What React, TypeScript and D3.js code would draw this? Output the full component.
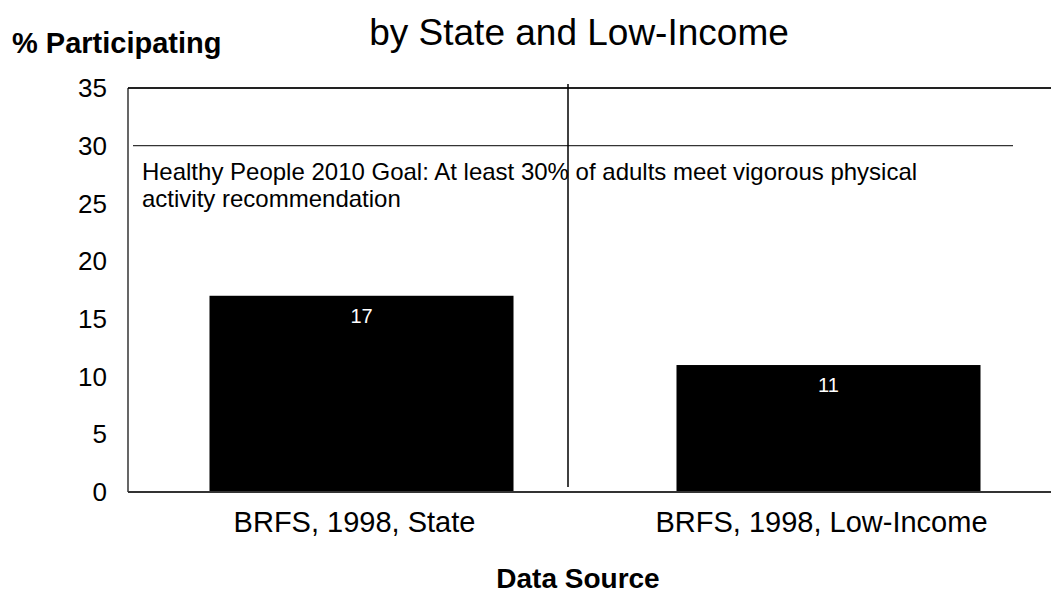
import React from "react";
import * as d3 from "d3";

const categories = ["BRFS, 1998, State", "BRFS, 1998, Low-Income"];
const values = [17, 11];
const yTicks = [0, 5, 10, 15, 20, 25, 30, 35];
const goalValue = 30;
const goalLines = [
  "Healthy People 2010 Goal: At least 30% of adults meet vigorous physical",
  "activity recommendation",
];

const W = 1051;
const H = 595;
const FONT = "'Liberation Sans', Arial, sans-serif";

export default function App() {
  const x = d3.scaleBand<string>().domain(categories).range([128, 1062]).padding(0);
  const y = d3.scaleLinear().domain([0, 35]).range([492, 88]);
  const barW = x.bandwidth() * 0.651;

  return (
    <svg
      width={W}
      height={H}
      style={{ position: "absolute", left: 0, top: 0, background: "#fff" }}
      fontFamily={FONT}
    >
      {/* titles */}
      <text x={579} y={45} textAnchor="middle" fontSize={37} fill="#000">
        by State and Low-Income
      </text>
      <text x={12} y={53} fontSize={29} fontWeight="bold" fill="#000">
        % Participating
      </text>

      {/* y tick labels */}
      {yTicks.map((t) => (
        <text
          key={t}
          x={107}
          y={y(t)}
          dy="0.35em"
          textAnchor="end"
          fontSize={26}
          fill="#000"
        >
          {t}
        </text>
      ))}

      {/* bars */}
      {categories.map((c, i) => {
        const cx = (x(c) as number) + x.bandwidth() / 2;
        return (
          <g key={c}>
            <rect
              x={cx - barW / 2}
              y={y(values[i])}
              width={barW}
              height={y(0) - y(values[i])}
              fill="#000"
            />
            <text
              x={cx}
              y={y(values[i]) + 27}
              textAnchor="middle"
              fontSize={20}
              fill="#fff"
            >
              {values[i]}
            </text>
            <text x={cx - 7} y={532} textAnchor="middle" fontSize={29} fill="#000">
              {c}
            </text>
          </g>
        );
      })}

      {/* plot frame */}
      <line x1={128} x2={W} y1={y(35)} y2={y(35)} stroke="#222" strokeWidth={2} />
      <line x1={128} x2={128} y1={y(35)} y2={y(0)} stroke="#000" strokeWidth={1.2} />
      <line x1={128} x2={W} y1={y(0)} y2={y(0)} stroke="#333" strokeWidth={2} />

      {/* goal reference line and note */}
      <line x1={133} x2={1013} y1={y(goalValue)} y2={y(goalValue)} stroke="#000" strokeWidth={1} />
      {goalLines.map((l, i) => (
        <text key={i} x={142} y={180 + i * 27} fontSize={24} fill="#000">
          {l}
        </text>
      ))}

      {/* divider */}
      <line x1={568} x2={568} y1={84} y2={487} stroke="#000" strokeWidth={1.5} />

      {/* x axis title */}
      <text x={578} y={588} textAnchor="middle" fontSize={28} fontWeight="bold" fill="#000">
        Data Source
      </text>
    </svg>
  );
}
